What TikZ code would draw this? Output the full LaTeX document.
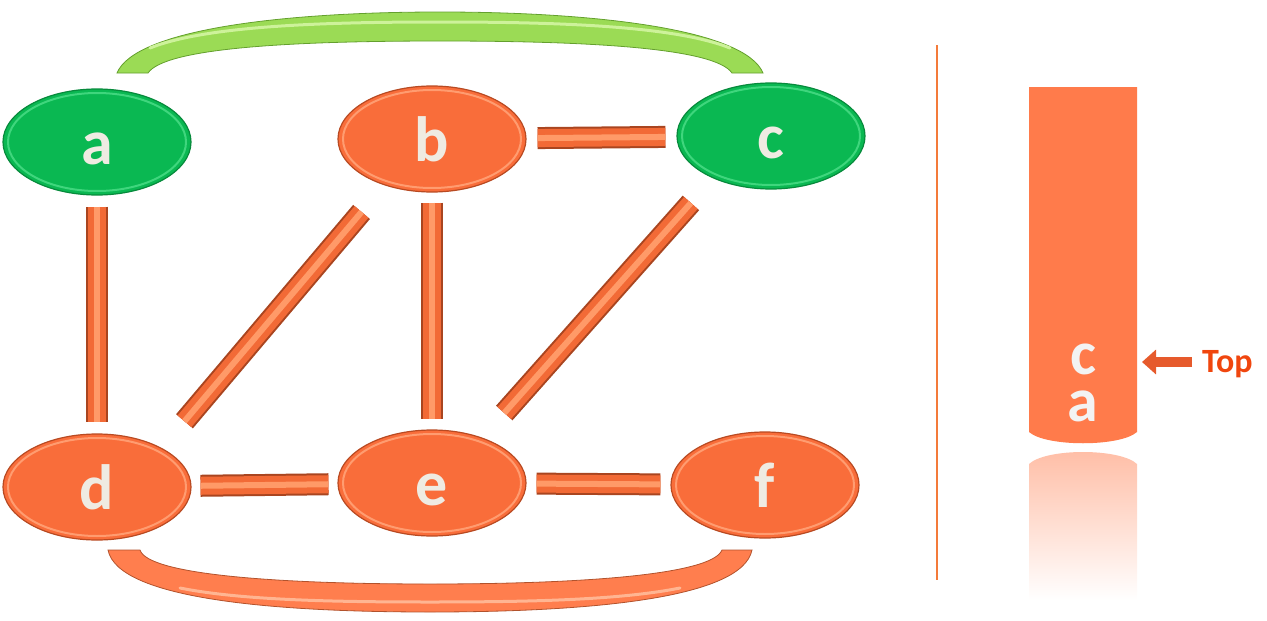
\documentclass[tikz,border=0pt]{standalone}
\usepackage{fontspec}
\setmainfont{Carlito}
\usetikzlibrary{arrows.meta,shapes.geometric,calc}
\definecolor{vgreen}{HTML}{0AB852}
\definecolor{vgreendark}{HTML}{078A3C}
\definecolor{vgreenlight}{HTML}{3FD67D}
\definecolor{vorange}{HTML}{F96D3A}
\definecolor{vorangedark}{HTML}{B84A22}
\definecolor{vorangelight}{HTML}{FF9C70}
\definecolor{vtext}{HTML}{EFEBE2}
\definecolor{barmain}{HTML}{F26A36}
\definecolor{bardark}{HTML}{A94520}
\definecolor{barlight}{HTML}{FF9A68}
\definecolor{arcgreen}{HTML}{9BDB55}
\definecolor{arcgreendark}{HTML}{64A02E}
\definecolor{arcgreenlight}{HTML}{CDF29A}
\definecolor{arcorange}{HTML}{FF7E4E}
\definecolor{arcorangedark}{HTML}{B2522C}
\definecolor{arcorangelight}{HTML}{FFB592}
\definecolor{stackfill}{HTML}{FF7B4B}
\definecolor{stacktext}{HTML}{F3F3F3}
\definecolor{sepline}{HTML}{F47B3A}
\definecolor{topred}{HTML}{F0460E}
\definecolor{arrowred}{HTML}{E65A2C}

\tikzset{
  vtx/.style={ellipse, minimum width=188pt, minimum height=106pt,
    inner sep=0pt, text height=44pt, text depth=0pt, text=vtext,
    line width=1.2pt, font=\bfseries\fontsize{64}{64}\selectfont},
  gvtx/.style={vtx, fill=vgreen, draw=vgreendark,
    path picture={\draw[vgreenlight,line width=2pt]
      (path picture bounding box.center) ellipse [x radius=89pt, y radius=49pt];}},
  ovtx/.style={vtx, fill=vorange, draw=vorangedark,
    path picture={\draw[vorangelight,line width=2pt]
      (path picture bounding box.center) ellipse [x radius=89pt, y radius=49pt];}},
  bar/.style={draw=barmain, line width=18pt, shorten <=#1, shorten >=#1,
    preaction={draw=bardark, line width=22pt},
    postaction={draw=barlight, line width=6pt}},
  bar/.default=11pt,
  stklabel/.style={anchor=base, inner sep=0pt, text=stacktext,
    text height=30pt, text depth=0pt,
    font=\bfseries\fontsize{62}{62}\selectfont},
  toparrow/.style={draw=arrowred, line width=10pt,
    -{Triangle[width=24pt,length=14pt]}}
}

\begin{document}
\begin{tikzpicture}[x=1pt,y=-1pt]
  \useasboundingbox (0,0) rectangle (1267,621);

  % vertices
  \node[gvtx] (a) at (97,142) {a};
  \node[ovtx] (b) at (432,139) {b};
  \node[gvtx] (c) at (771,136) {c};
  \node[ovtx] (d) at (97,487) {d};
  \node[ovtx] (e) at (432,483) {e};
  \node[ovtx] (f) at (765,485) {f};

  % straight edges
  \draw[bar] (a) -- (d);
  \draw[bar] (b) -- (c);
  \draw[bar=10pt] (b) -- (e);
  \draw[bar=9pt] (d) -- (e);
  \draw[bar=10pt] (e) -- (f);
  \draw[bar=35pt] (b.224) -- (d.31);
  \draw[bar=33pt] (c.216) -- (e.42);

  % curved edge a--c
  \fill[arcgreen,draw=arcgreendark,line width=.8pt]
    (117,73) .. controls (135,30) and (280,12) .. (440,12)
    .. controls (600,12) and (745,30) .. (763,73)
    -- (732,73) .. controls (715,48) and (590,41) .. (440,41)
    .. controls (290,41) and (165,48) .. (148,73) -- cycle;
  \draw[arcgreenlight,line width=3pt,line cap=round]
    (150,48) .. controls (205,26) and (320,22) .. (440,22)
    .. controls (560,22) and (675,26) .. (730,48);

  % curved edge d--f
  \fill[arcorange,draw=arcorangedark,line width=.8pt]
    (108,550) .. controls (118,600) and (280,612) .. (430,612)
    .. controls (580,612) and (742,600) .. (752,550)
    -- (722,550) .. controls (712,575) and (580,584) .. (430,584)
    .. controls (280,584) and (148,575) .. (140,550) -- cycle;
  \draw[arcorangelight,line width=3pt,line cap=round]
    (180,588) .. controls (240,600) and (330,602) .. (430,602)
    .. controls (530,602) and (620,600) .. (680,588);

  % separator
  \draw[sepline,line width=2pt] (937,45) -- (937,580);

  % stack with its reflection
  \fill[stackfill] (1029,87) -- (1137,87) -- (1137,432)
    .. controls (1120,447) and (1046,447) .. (1029,432) -- cycle;
  \shade[top color=stackfill!50, bottom color=white]
    (1029,464) .. controls (1046,448) and (1120,448) .. (1137,464)
    -- (1137,600) -- (1029,600) -- cycle;
  \node[stklabel] (sc) at (1083,374) {c};
  \node[stklabel] (sa) at (1083,421) {a};
  \coordinate (stk) at (1142,362);
  \node[anchor=west, inner sep=0pt, text=topred,
    font=\bfseries\fontsize{34}{34}\selectfont] (top) at (1202,364) {Top};
  \draw[toparrow,shorten <=10pt] (stk -| top.west) -- (stk);
\end{tikzpicture}
\end{document}
